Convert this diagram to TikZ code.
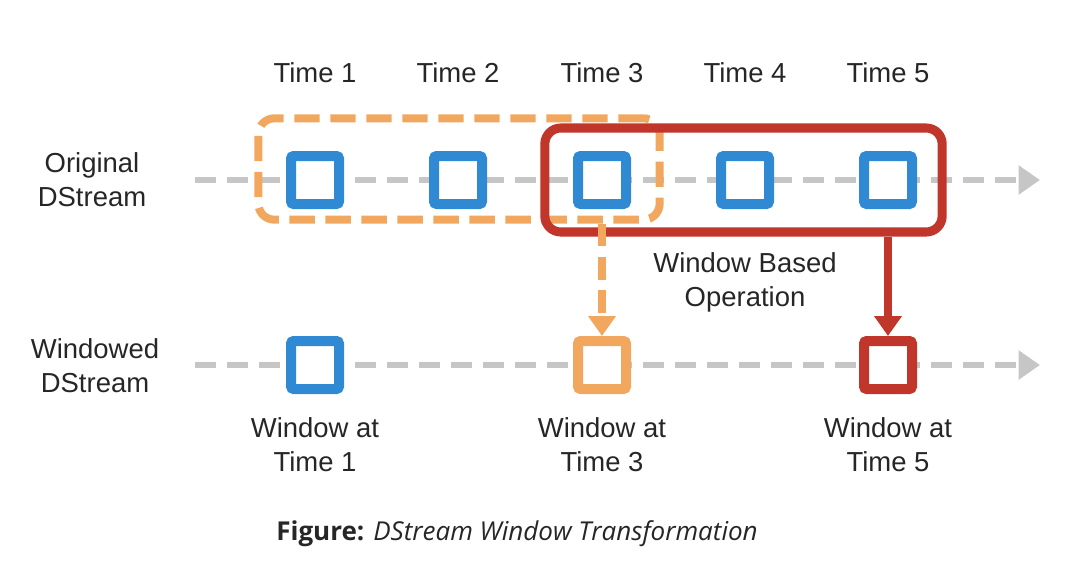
\documentclass[tikz,border=0pt]{standalone}
\usepackage{fontspec}
\setmainfont{Liberation Sans}
\newfontfamily\capfont{Open Sans}
\usetikzlibrary{arrows.meta}
\definecolor{sblue}{HTML}{2F8AD3}
\definecolor{sorange}{HTML}{F2A75E}
\definecolor{sred}{HTML}{C0362A}
\definecolor{sgray}{HTML}{C6C6C6}
\tikzset{
  lbl/.style={font=\fontsize{20.6}{25.5}\selectfont, align=center, text=black!85},
  rdd/.style={draw, line width=7.5pt, fill=white, minimum size=36pt, inner sep=0pt, rounded corners=2pt},
  bsq/.style={rdd, draw=sblue},
  osq/.style={rdd, draw=sorange},
  rsq/.style={rdd, draw=sred},
  stream/.style={draw=sgray, line width=4.5pt, dash pattern=on 16pt off 8pt,
    -{Triangle[length=16pt,width=21pt]}},
  owin/.style={draw=sorange, line width=6pt, dash pattern=on 19pt off 8pt, rounded corners=12pt, inner sep=0pt},
  rwin/.style={draw=sred, line width=6.8pt, rounded corners=12pt, inner sep=0pt},
}
\begin{document}
\begin{tikzpicture}[x=0.75pt, y=-0.75pt]
  \useasboundingbox (0,0) rectangle (1065,579);

  % stream lines
  \coordinate (os) at (195,180);
  \coordinate (oe) at (1040,180);
  \coordinate (ws) at (195,365);
  \coordinate (we) at (1040,365);
  \draw[stream] (os) -- (oe);
  \draw[stream] (ws) -- (we);

  % window outlines
  \node[owin, minimum width=301pt, minimum height=76pt] (ow) at (459,169) {};
  \node[rwin, minimum width=298pt, minimum height=78pt] (rw) at (743.5,180) {};

  % original stream batches
  \foreach \i/\x in {1/315,2/458,3/602,4/745,5/888}{
    \node[bsq] (o\i) at (\x,180) {};
    \node[lbl] (t\i) at (\x,73) {Time \i};
  }

  % windowed stream batches
  \node[bsq] (w1) at (315,365) {};
  \node[osq] (w3) at (602,365) {};
  \node[rsq] (w5) at (888,365) {};

  % window results
  \draw[draw=sorange, line width=5.5pt, dash pattern=on 17pt off 8pt,
    -{Triangle[length=15pt,width=20pt]}] (ow.south -| w3) -- (w3.north);
  \draw[draw=sred, line width=5.5pt,
    -{Triangle[length=15pt,width=20pt]}] (rw.south -| w5) -- (w5.north);

  % labels
  \node[lbl] (lo) at (92,180) {Original\\DStream};
  \node[lbl] (lw) at (95,366) {Windowed\\DStream};
  \node[lbl] (lop) at (745,282) {Window Based\\Operation};
  \node[lbl] (l1) at (315,445) {Window at\\Time 1};
  \node[lbl] (l3) at (602,445) {Window at\\Time 3};
  \node[lbl] (l5) at (888,445) {Window at\\Time 5};

  % caption
  \node[font=\capfont\fontsize{19.5}{23}\selectfont, text=black!85] (cap) at (517,534)
    {\textbf{Figure:} \textit{DStream Window Transformation}};
\end{tikzpicture}
\end{document}
